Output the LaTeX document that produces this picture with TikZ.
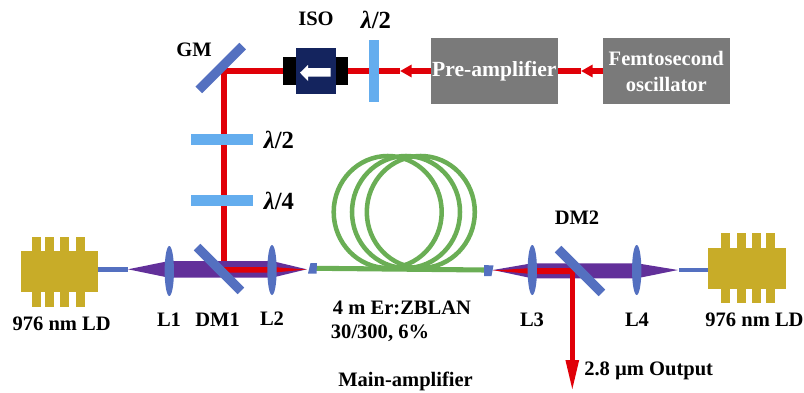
\documentclass[tikz,border=0pt]{standalone}
\usepackage{fontspec}
\setmainfont{Liberation Serif}
\usetikzlibrary{positioning,arrows.meta,shapes.geometric,backgrounds}
\definecolor{ldgold}{HTML}{C8AC28}
\definecolor{optblue}{HTML}{5470C0}
\definecolor{wpblue}{HTML}{64ADEE}
\definecolor{pumpviolet}{HTML}{62309A}
\definecolor{beamred}{HTML}{E00008}
\definecolor{fibgreen}{HTML}{6AAE55}
\definecolor{isonavy}{HTML}{14245E}
\tikzset{
  lbl/.style={font=\fontsize{15.4}{18.5}\selectfont\bfseries,inner sep=0pt,align=left},
  lbllam/.style={font=\fontsize{18.5}{20}\selectfont\bfseries,inner sep=0pt},
  lens/.style={ellipse,fill=optblue,minimum width=7pt,minimum height=37.5pt,inner sep=0pt,outer sep=0pt},
  mirror/.style={rectangle,fill=optblue,minimum width=46.5pt,minimum height=7pt,inner sep=0pt,outer sep=0pt},
  wph/.style={rectangle,fill=wpblue,minimum width=46.5pt,minimum height=7.9pt,inner sep=0pt,outer sep=0pt},
  wpv/.style={rectangle,fill=wpblue,minimum width=7.7pt,minimum height=47pt,inner sep=0pt,outer sep=0pt},
  graybox/.style={rectangle,fill=black!52,inner sep=0pt,outer sep=0pt,text=white,align=center,minimum width=95pt,minimum height=49.5pt,font=\fontsize{15.4}{19.5}\selectfont\bfseries},
  isobody/.style={rectangle,fill=isonavy,minimum width=30pt,minimum height=34.2pt,inner sep=0pt,outer sep=0pt},
  isoend/.style={rectangle,fill=black,minimum width=48.5pt,minimum height=21.4pt,inner sep=0pt,outer sep=0pt},
  beam/.style={draw=beamred,line width=4pt},
  beamtip/.style={beam,-{Triangle[length=8.7pt,width=9pt,sep=0pt]}},
  fiber/.style={draw=fibgreen,line width=3.4pt},
  pigtail/.style={draw=optblue,line width=3.4pt},
  pumpcone/.style={fill=pumpviolet,draw=none},
  redcone/.style={fill=beamred,draw=none},
  coupler/.style={fill=optblue,draw=none},
  ldbody/.style={fill=ldgold,draw=none},
}
\begin{document}
\begin{tikzpicture}[x=0.75pt,y=-0.75pt]
  \useasboundingbox (0,0) rectangle (804,393);
  % fibre coil
  \foreach \cx in {387.7,406,420.8} \draw[fiber] (\cx,212) ellipse (54 and 56);
  \coordinate (fibL) at (316,268.3); \coordinate (fibR) at (485,270);
  \draw[fiber,line width=3.8pt] (fibL)--(fibR);
  \fill[coupler] (310.5,263)--(317,263)--(316.5,273.5)--(308,273.5)--cycle;
  \fill[coupler] (484,265)--(493.5,265.5)--(491.5,276)--(484,276)--cycle;
  % laser diodes
  \fill[ldbody] (20.5,250.5) rectangle (97.5,291.5);
  \foreach \px in {32,45,59.7,76} \fill[ldbody] (\px,236.7) rectangle ++(9,70.3);
  \coordinate (ldL) at (97.5,269.3); \coordinate (pumpL) at (127.5,269.3);
  \draw[pigtail] (ldL)--(pumpL);
  \fill[ldbody] (708,248.3) rectangle (785.7,289.3);
  \foreach \px in {720.7,737,752,765.7} \fill[ldbody] (\px,233) rectangle ++(9,70);
  \coordinate (ldR) at (708,270); \coordinate (pumpR) at (679,270);
  \draw[pigtail] (ldR)--(pumpR);
  % pump cones
  \fill[pumpcone] (128,269.3)--(169,261)--(272,261)--(306.7,269.3)--(272,277.7)--(169,277.7)--cycle;
  \fill[pumpcone] (493,270)--(532,263.3)--(637,263.3)--(678,270)--(637,278.3)--(532,278.3)--cycle;
  % red in the cones
  \fill[redcone] (222,267)--(272,267)--(306.7,269.5)--(272,272.7)--(222,272.7)--cycle;
  \fill[redcone] (493,270.5)--(532,268)--(574,268)--(574,274)--(532,274)--cycle;
  \coordinate (turnC) at (572.3,271);
  \coordinate (outEnd) at (572.3,392);
  \draw[beam,-{Triangle[length=24pt,width=9pt,sep=0pt]}] (turnC)--(outEnd);
  % optics
  \node[lens] (L1) at (169.3,271) {};
  \node[lens] (L2) at (272,270) {};
  \node[lens] (L3) at (532.3,270) {};
  \node[lens] (L4) at (636.7,270) {};
  \node[wph] (wpA) at (222,139.5) {};
  \node[wph] (wpB) at (222,200.5) {};
  \node[wpv] (wpC) at (373.8,71) {};
  \node[graybox] (pre) at (494.3,71) {\fontsize{16.2}{19.5}\selectfont Pre-amplifier};
  \node[graybox] (osc) at (666.3,71) {Femtosecond\\oscillator};
  \node[isoend] (isoend) at (315.5,71) {};
  \node[isobody] (iso) at (316,71) {};
  \fill[white] (300,72.7)--(308,65)--(308,68)--(330.7,68)--(330.7,76.7)--(308,76.7)--(308,81)--cycle;
  \node[mirror,rotate=45] (GM) at (220.7,68) {};
  \node[mirror,rotate=-45] (DM1) at (219,269) {};
  \node[mirror,rotate=-45] (DM2) at (580,271) {};
  % beam path
  \coordinate (turnB) at (224,71);
  \coordinate (dmA) at (224,264);
  \coordinate (tipA) at (400,71);
  \coordinate (tipB) at (581,71);
  \begin{scope}[on background layer]
    \draw[beamtip] (osc.west)--(tipB);
    \draw[beam] (tipB)--(pre.east);
    \draw[beamtip] (pre.west)--(tipA);
    \draw[beam] (tipA)--(wpC.center);
    \draw[beam] (wpC.center)--(iso.center);
    \draw[beam] (iso.center)--(turnB)--(dmA);
  \end{scope}
  % labels
  \node[lbl] (ldLtxt) at (61.7,324) {976 nm LD};
  \node[lbl] (lL1) at (169,320) {L1};
  \node[lbl] (lDM1) at (217.6,320) {DM1};
  \node[lbl] (lL2) at (272,319) {L2};
  \node[lbl,anchor=west] (fibtxt) at (332.7,307.5) {4 m Er:ZBLAN};
  \node[lbl,anchor=west] (fibdata) at (330.7,333.5) {30/300, 6\%};
  \node[lbl,anchor=west] (mainamp) at (338,381) {Main-amplifier};
  \node[lbl] (lL3) at (532,320) {L3};
  \node[lbl] (lL4) at (637,320) {L4};
  \node[lbl] (lDM2) at (577,218) {DM2};
  \node[lbl] (ldRtxt) at (754.5,320) {976 nm LD};
  \node[lbl,anchor=west] (outtxt) at (584,371) {2.8 µm Output};
  \node[lbl] (lGM) at (194,50) {GM};
  \node[lbl] (lISO) at (316,19) {ISO};
  \node[lbllam] (lamC) at (376,20) {\textit{λ}/2};
  \node[lbllam] (lamA) at (279,140) {\textit{λ}/2};
  \node[lbllam] (lamB) at (279,201) {\textit{λ}/4};
\end{tikzpicture}
\end{document}
